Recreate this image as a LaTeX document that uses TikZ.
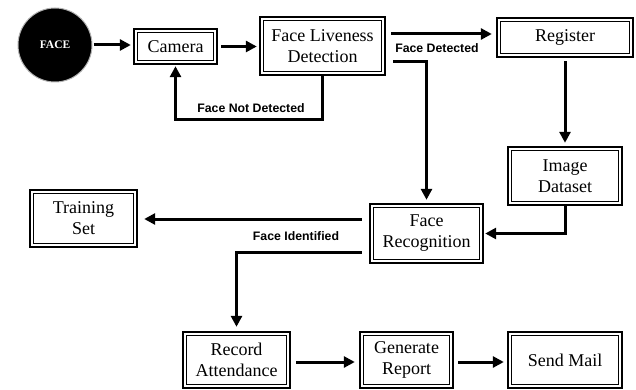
\documentclass[tikz,border=0pt]{standalone}
\usepackage{fontspec}
\setmainfont{Liberation Serif}
\newfontfamily\labelfont{Liberation Sans}
\usetikzlibrary{arrows.meta,calc}
\begin{document}
\begin{tikzpicture}[x=1pt,y=-1pt,
  box/.style={draw, line width=2.4pt, fill=white, align=center, inner sep=2pt,
    font=\fontsize{18}{21}\selectfont,
    path picture={\draw[line width=0.8pt]
      ([shift={(3.4pt,3.4pt)}]path picture bounding box.south west) rectangle
      ([shift={(-3.4pt,-3.4pt)}]path picture bounding box.north east);}},
  arr/.style={line width=3pt, -{Triangle[length=11pt,width=11pt]}},
  lbl/.style={font=\labelfont\bfseries\fontsize{12.3}{13}\selectfont, inner sep=1pt}]
\useasboundingbox (0,0) rectangle (636,390);

% nodes
\node[circle, fill=black, draw=gray!60, line width=1pt, minimum size=74pt,
      text=white, font=\bfseries\fontsize{11.5}{12}\selectfont] (face) at (55,45) {FACE};
\node[box, minimum width=83pt, minimum height=35pt] (cam) at (175.5,46.5) {Camera};
\node[box, minimum width=125pt, minimum height=58pt] (fld) at (322.5,46) {Face Liveness\\Detection};
\node[box, minimum width=136pt, minimum height=39pt] (reg) at (565,37.5) {Register};
\node[box, minimum width=114pt, minimum height=58pt] (img) at (565,176) {Image\\Dataset};
\node[box, minimum width=113pt, minimum height=59pt] (frec) at (426.5,233.5) {Face\\Recognition};
\node[box, minimum width=107pt, minimum height=57pt] (train) at (83.5,218.5) {Training\\Set};
\node[box, minimum width=107pt, minimum height=56pt] (rec) at (236.5,360) {Record\\Attendance};
\node[box, minimum width=93pt, minimum height=56pt] (gen) at (406.5,360) {Generate\\Report};
\node[box, minimum width=114pt, minimum height=56pt] (mail) at (565,360) {Send Mail};

% connectors
\draw[arr, shorten <=1pt, shorten >=2pt] (face.east) -- (cam.west |- face.east);
\draw[arr, shorten <=3pt, shorten >=2pt] (cam.east) -- (fld.west |- cam.east);
\draw[arr, shorten >=1pt] (fld.south) -- ++(0,43) -| (cam.south);
\node[lbl] (lnd) at (251,108) {Face Not Detected};

\coordinate (fdA) at ([shift={(5,-12)}]fld.east);
\draw[arr, shorten >=4pt] (fdA) -- (fdA -| reg.west);
\node[lbl] (lfd) at (437,48) {Face Detected};

\coordinate (fdB) at ([shift={(7,16)}]fld.east);
\draw[arr, shorten >=3pt] (fdB) -| (frec.north);

\draw[arr, shorten <=3pt, shorten >=3pt] (reg.south) -- (img.north);
\draw[arr, shorten >=1pt] (img.south) |- (frec.east);

\coordinate (ftA) at ([shift={(-7,-14.5)}]frec.west);
\draw[arr, shorten >=6pt] (ftA) -- (ftA -| train.east);

\coordinate (fiA) at ([shift={(-7,18.5)}]frec.west);
\draw[arr, shorten >=4pt] (fiA) -| (rec.north);
\node[lbl] (lfi) at (296,236) {Face Identified};

\coordinate (rgA) at ([shift={(5,2)}]rec.east);
\draw[arr, shorten >=4pt] (rgA) -- (rgA -| gen.west);
\coordinate (gmA) at ([shift={(4,2)}]gen.east);
\draw[arr, shorten >=3pt] (gmA) -- (gmA -| mail.west);
\end{tikzpicture}
\end{document}
